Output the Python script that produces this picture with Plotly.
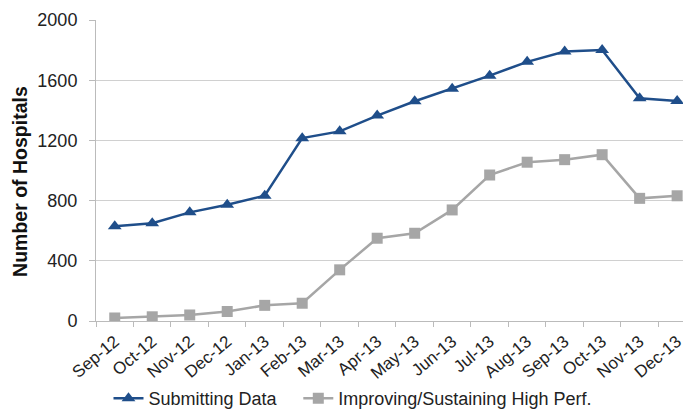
import plotly.graph_objects as go

months = ["Sep-12", "Oct-12", "Nov-12", "Dec-12", "Jan-13", "Feb-13", "Mar-13", "Apr-13",
          "May-13", "Jun-13", "Jul-13", "Aug-13", "Sep-13", "Oct-13", "Nov-13", "Dec-13"]
submitting = [630, 650, 722, 773, 833, 1215, 1260, 1365, 1460, 1544, 1630, 1722, 1790, 1800, 1480, 1462]
improving = [20, 28, 40, 63, 104, 118, 340, 550, 583, 738, 970, 1055, 1072, 1105, 815, 832]
y_ticks = [0, 400, 800, 1200, 1600, 2000]

fig = go.Figure()
fig.add_trace(go.Scatter(
    x=months, y=submitting, name="Submitting Data", mode="lines+markers",
    line=dict(color="#1F4E8A", width=2.5),
    marker=dict(symbol="triangle-up", size=12, color="#1F4E8A"),
    legend="legend",
))
fig.add_trace(go.Scatter(
    x=months, y=improving, name="Improving/Sustaining High Perf.", mode="lines+markers",
    line=dict(color="#A6A6A6", width=2.5),
    marker=dict(symbol="square", size=11, color="#A6A6A6"),
    legend="legend2",
))

leg_common = dict(orientation="h", xanchor="left", y=-0.258, yanchor="middle",
                  font=dict(size=18, color="#222222"), itemwidth=30,
                  bgcolor="rgba(0,0,0,0)")

# page body has an 8px default margin, so the figure is sized/margined to compensate
fig.update_layout(
    width=683, height=404,
    margin=dict(l=88, r=0, t=12, b=91, autoexpand=False),
    paper_bgcolor="white", plot_bgcolor="white",
    font=dict(family="Liberation Sans, Arial, sans-serif", color="#222222"),
    showlegend=True,
    legend=dict(x=0.021, **leg_common),
    legend2=dict(x=0.34, **leg_common),
    annotations=[dict(
        text="<b>Number of Hospitals</b>", textangle=-90,
        xref="paper", yref="paper", x=-0.129, y=0.463,
        xanchor="center", yanchor="middle", showarrow=False,
        font=dict(size=19.5, color="#111111"),
    )],
)
fig.update_xaxes(
    type="category", range=[-0.5, 15.37], tickangle=-40,
    tickfont=dict(size=17, color="#222222"),
    showline=True, linecolor="#BBBBBB", linewidth=1,
    ticks="outside", ticklen=5, tickcolor="#BBBBBB",
    ticklabelstandoff=3,
    tickson="boundaries", showgrid=False, automargin=False,
)
fig.update_yaxes(
    range=[0, 2000], tickvals=y_ticks,
    tickfont=dict(size=18, color="#222222"),
    showgrid=True, gridcolor="#D0D0D0", gridwidth=1,
    showline=True, linecolor="#BBBBBB", linewidth=1,
    ticks="outside", ticklen=6, tickcolor="#BBBBBB",
    ticklabelstandoff=8,
    zeroline=False, automargin=False,
)

fig.write_html("out.html")
